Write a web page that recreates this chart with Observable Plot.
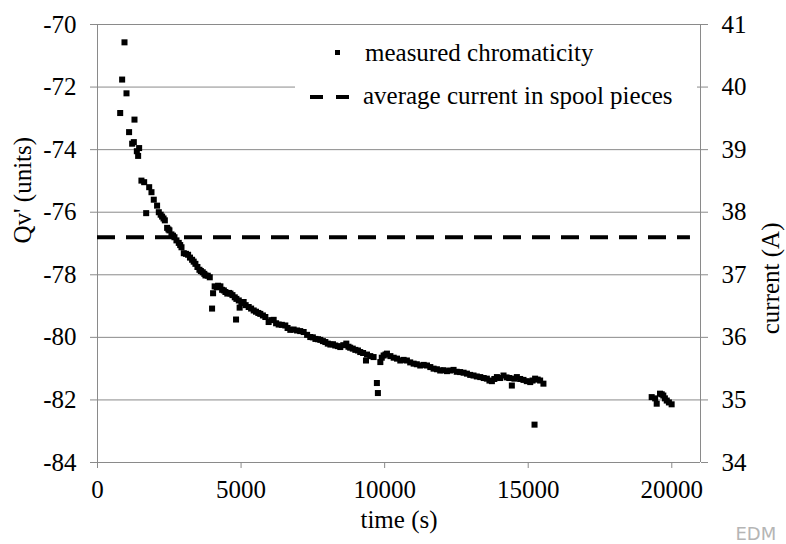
<!DOCTYPE html>
<html>
<head>
<meta charset="utf-8">
<script src="https://cdn.jsdelivr.net/npm/d3@7"></script>
<script src="https://cdn.jsdelivr.net/npm/@observablehq/plot@0.6"></script>
<style>
  html, body { margin: 0; padding: 0; background: #fff; overflow: hidden; }
  #wrap { position: relative; width: 786px; height: 544px; }
</style>
</head>
<body>
<div id="wrap"></div>
<script>
// measured chromaticity: time (s)
const timeS = [
  790, 858, 940, 1010, 1100, 1207, 1265, 1288, 1370, 1415, 1450, 1530, 1625, 1695, 1800, 1880, 1960,
  2075, 2135, 2200, 2250, 2300, 2345, 2425, 2470, 2505, 2575, 2630, 2680, 2750, 2830, 2880, 2925,
  3005, 3080, 3155, 3220, 3295, 3350, 3410, 3480, 3550, 3600, 3665, 3720, 3760, 3840, 3910, 3990,
  4025, 4080, 4150, 4200, 4280, 4340, 4400, 4455, 4520, 4580, 4630, 4700, 4780, 4825, 4837, 4920,
  4950, 5010, 5090, 5160, 5265, 5350, 5440, 5520, 5600, 5670, 5760, 5845, 5960, 6050, 6135, 6220,
  6310, 6420, 6540, 6620, 6715, 6830, 6950, 7060, 7180, 7300, 7410, 7500, 7590, 7680, 7760, 7850,
  7935, 8020, 8110, 8200, 8280, 8370, 8455, 8560, 8665, 8740, 8800, 8890, 8980, 9070, 9150, 9250,
  9350, 9385, 9500, 9615, 9730, 9765, 9850, 9900, 9965, 10030, 10080, 10200, 10315, 10430, 10545,
  10660, 10775, 10890, 11010, 11120, 11240, 11360, 11475, 11590, 11705, 11820, 11935, 12050, 12170,
  12280, 12400, 12510, 12630, 12750, 12865, 12980, 13095, 13210, 13330, 13450, 13560, 13650, 13735,
  13820, 13910, 14020, 14140, 14250, 14340, 14430, 14520, 14605, 14720, 14835, 14950, 15070, 15150,
  15220, 15240, 15330, 15415, 15530,
  19300, 19420, 19475, 19590, 19650, 19705, 19760, 19825, 19900, 19995
];
// measured chromaticity: Qv' (units)
const chromaQv = [
  -72.83, -71.76, -70.57, -72.2, -73.44, -73.81, -73.76, -73.04, -74.05, -74.2, -73.95, -74.99, -75.04, -76.03, -75.2, -75.36, -75.6,
  -75.79, -76.0, -76.08, -76.14, -76.2, -76.26, -76.5, -76.55, -76.58, -76.71, -76.75, -76.8, -76.9, -76.98, -77.05, -77.12,
  -77.31, -77.33, -77.36, -77.45, -77.52, -77.58, -77.65, -77.75, -77.84, -77.88, -77.92, -77.97, -78.02, -78.03, -78.08, -79.08,
  -78.59, -78.37, -78.4, -78.35, -78.37, -78.48, -78.5, -78.55, -78.6, -78.58, -78.6, -78.65, -78.72, -79.43, -78.77, -78.82,
  -79.05, -78.9, -78.87, -78.97, -79.03, -79.08, -79.14, -79.18, -79.22, -79.25, -79.3, -79.35, -79.51, -79.45, -79.44, -79.55,
  -79.59, -79.6, -79.62, -79.7, -79.76, -79.75, -79.78, -79.8, -79.83, -79.92, -79.99, -80.0, -80.05, -80.06, -80.08, -80.12,
  -80.15, -80.2, -80.23, -80.22, -80.26, -80.28, -80.31, -80.25, -80.2, -80.3, -80.33, -80.36, -80.4, -80.42, -80.47, -80.5,
  -80.74, -80.55, -80.6, -80.63, -81.46, -81.78, -80.79, -80.65, -80.58, -80.55, -80.52, -80.6, -80.65, -80.68, -80.74,
  -80.72, -80.74, -80.8, -80.84, -80.86, -80.9, -80.88, -80.9, -80.95, -81.0, -81.02, -81.06, -81.05, -81.08,
  -81.06, -81.04, -81.1, -81.11, -81.13, -81.16, -81.2, -81.22, -81.25, -81.27, -81.3, -81.32, -81.38, -81.4,
  -81.33, -81.27, -81.3, -81.22, -81.28, -81.3, -81.54, -81.32, -81.27, -81.33, -81.36, -81.4, -81.43, -81.38,
  -82.79, -81.32, -81.35, -81.38, -81.48,
  -81.91, -81.95, -82.12, -81.8, -81.82, -81.86, -81.95, -82.02, -82.08, -82.14
];
// average current in spool pieces (A) and the time span it is drawn over (s)
const avgCurrentA = 37.6;
const avgSpanS = [0, 20650];

// axes
const timeTicks = [0, 5000, 10000, 15000, 20000];
const qvTicks = [-84, -82, -80, -78, -76, -74, -72, -70];
const currentTicks = [34, 35, 36, 37, 38, 39, 40, 41];
const timeDomain = [0, 21000];
const qvDomain = [-84, -70];
const currentDomain = [34, 41];

const seriesLabels = ["measured chromaticity", "average current in spool pieces"];
const titles = { x: "time (s)", y: "Qv' (units)", y2: "current (A)" };

// linear map between the right (current) axis and the left (Qv') axis
const currentToQv = d3.scaleLinear().domain(currentDomain).range(qvDomain);

const points = timeS.map((t, i) => ({ t, q: chromaQv[i] }));
const GRID = "#8a8a8a";
const FONT = "'Liberation Serif', 'Times New Roman', Times, Tinos, 'Nimbus Roman', FreeSerif, 'Noto Serif', 'DejaVu Serif', serif";

const chart = Plot.plot({
  width: 786,
  height: 544,
  marginLeft: 97,
  marginRight: 86,
  marginTop: 24,
  marginBottom: 82,
  style: { fontFamily: FONT, fontSize: "25px", color: "#000", background: "#fff" },
  x: { domain: timeDomain },
  y: { domain: qvDomain },
  marks: [
    Plot.ruleY(qvTicks, { stroke: GRID, strokeWidth: 1 }),
    Plot.ruleX([timeDomain[0], timeDomain[1]], { stroke: GRID, strokeWidth: 1 }),
    Plot.axisY({ ticks: qvTicks, tickFormat: d => String(d), tickSize: 7, tickPadding: 14, stroke: GRID, fill: "#000", label: null, fontSize: 25 }),
    Plot.axisY({ anchor: "right", ticks: currentTicks.map(c => currentToQv(c)), tickFormat: d => String(Math.round(currentToQv.invert(d))), tickSize: 7, tickPadding: 14, stroke: GRID, fill: "#000", label: null, fontSize: 25 }),
    Plot.axisX({ ticks: timeTicks, tickFormat: d => String(d), tickSize: 6, tickPadding: 12, stroke: GRID, fill: "#000", label: null, fontSize: 25 }),
    Plot.ruleY([currentToQv(avgCurrentA)], { x1: avgSpanS[0], x2: avgSpanS[1], stroke: "#000", strokeWidth: 4, strokeDasharray: "18,11" }),
    Plot.dot(points, { x: "t", y: "q", symbol: "square", r: 3.4, fill: "#000", stroke: null }),
    Plot.text([titles.y], { frameAnchor: "left", dx: -75, rotate: -90, text: d => d, fontSize: 25, fill: "#000" }),
    Plot.text([titles.y2], { frameAnchor: "right", dx: 70, dy: -21, rotate: -90, text: d => d, fontSize: 25, fill: "#000" }),
    Plot.text([titles.x], { frameAnchor: "bottom", dy: 65, text: d => d, fontSize: 25, fill: "#000" }),
    Plot.text(["EDM"], { frameAnchor: "bottom-right", dx: 35, dy: 77, lineAnchor: "bottom", textAnchor: "start", text: d => d, fontSize: 18, fontFamily: "'DejaVu Sans', sans-serif", fill: "#b5b5b5" })
  ]
});

const wrap = document.getElementById("wrap");
wrap.appendChild(chart);

// legend overlay (inside plot area, top-right), white box hides the grid line behind it
const leg = d3.create("svg").attr("width", 786).attr("height", 544)
  .style("position", "absolute").style("left", "0px").style("top", "0px").style("pointer-events", "none");
leg.append("rect").attr("x", 295).attr("y", 27).attr("width", 402).attr("height", 91).attr("fill", "#fff");
leg.append("rect").attr("x", 335).attr("y", 50).attr("width", 5).attr("height", 5).attr("fill", "#000");
leg.append("line").attr("x1", 310).attr("x2", 351).attr("y1", 97).attr("y2", 97)
  .attr("stroke", "#000").attr("stroke-width", 4).attr("stroke-dasharray", "13,13");
leg.selectAll("text").data(seriesLabels).join("text")
  .attr("x", (d, i) => i === 0 ? 365 : 363)
  .attr("y", (d, i) => i === 0 ? 61 : 104)
  .style("font-family", FONT).style("font-size", "25px").attr("fill", "#000")
  .text(d => d);
wrap.appendChild(leg.node());
</script>
</body>
</html>
